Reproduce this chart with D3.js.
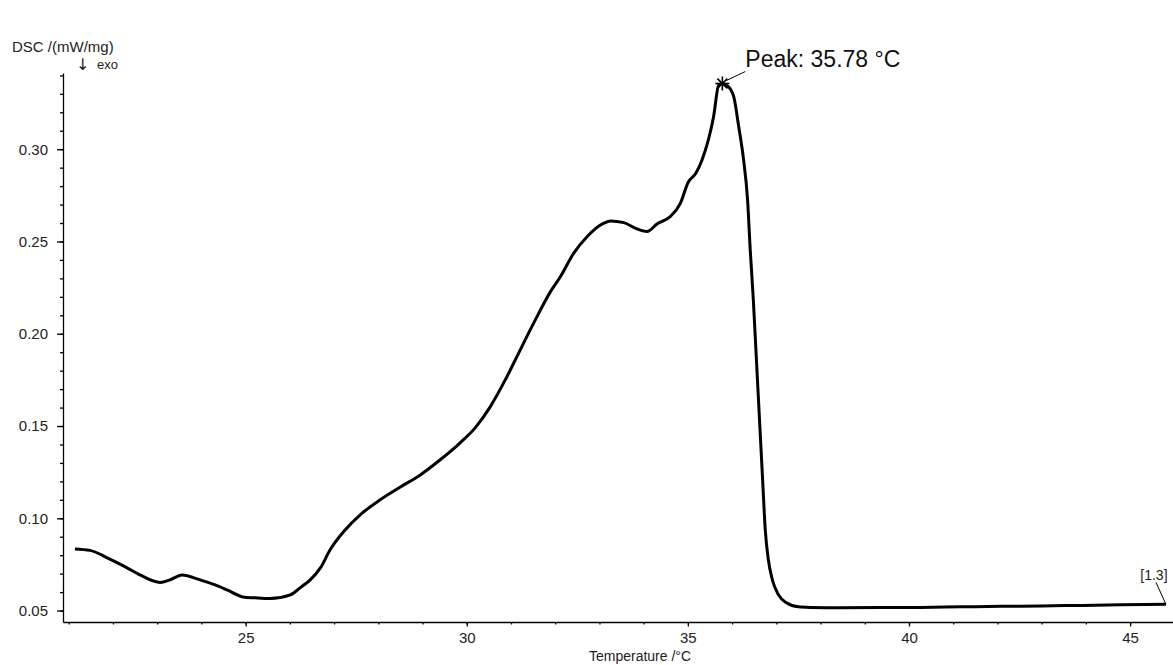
<!DOCTYPE html>
<html>
<head>
<meta charset="utf-8">
<script src="https://cdn.jsdelivr.net/npm/d3@7"></script>
<style>
  html, body { margin: 0; padding: 0; background: #fff; }
  svg { display: block; font-family: "Liberation Sans", Arial, sans-serif; }
</style>
</head>
<body>
<svg id="chart" width="1173" height="665"></svg>
<script>
// ---- data ----
const temperature = [
  21.14, 21.48, 21.87, 22.28, 22.61, 23.07, 23.29, 23.56, 23.97, 24.31, 24.58, 24.94,
  25.21, 25.55, 26.01, 26.23, 26.46, 26.69, 26.91, 27.25, 27.59, 28.04, 28.50, 28.95,
  29.40, 29.85, 30.19, 30.53, 30.87, 31.21, 31.55, 31.89, 32.12, 32.42, 32.72, 33.10,
  33.25, 33.55, 33.85, 34.08, 34.30, 34.60, 34.83, 35.01, 35.18, 35.32, 35.58, 35.70,
  35.78, 35.87, 35.96, 36.04, 36.15, 36.26, 36.35, 36.41, 36.48, 36.55, 36.62, 36.69,
  36.75, 36.82, 36.91, 37.05, 37.23, 37.50, 37.77, 38.45, 39.36, 40.26, 41.17, 42.07,
  42.98, 43.88, 44.79, 45.81
];
const dsc = [
  0.0834, 0.0826, 0.0786, 0.0737, 0.0693, 0.0652, 0.0666, 0.0693, 0.0666, 0.0639, 0.0612, 0.0574,
  0.0569, 0.0565, 0.0585, 0.0623, 0.0666, 0.0731, 0.0829, 0.0937, 0.1019, 0.1100, 0.1170, 0.1235,
  0.1317, 0.1409, 0.1490, 0.1604, 0.1750, 0.1913, 0.2075, 0.2227, 0.2310, 0.2437, 0.2526, 0.2599,
  0.2611, 0.2602, 0.2568, 0.2554, 0.2595, 0.2635, 0.2707, 0.2822, 0.2870, 0.2942, 0.3175, 0.3349,
  0.3356, 0.3345, 0.3327, 0.3282, 0.3122, 0.2942, 0.2725, 0.2455, 0.2184, 0.1859, 0.1534, 0.1209,
  0.0938, 0.0775, 0.0667, 0.0585, 0.0542, 0.0520, 0.0517, 0.0515, 0.0516, 0.0517, 0.0520, 0.0523,
  0.0525, 0.0528, 0.0531, 0.0534
];
const xMajorTicks = [25, 30, 35, 40, 45];
const xMinorTicks = d3.range(21, 46, 1);
const yMajorTicks = [0.05, 0.10, 0.15, 0.20, 0.25, 0.30];
const yMinorTicks = d3.range(5, 35, 1).map(d => d / 100);
const peakTemp = 35.78;
const peakValue = 0.3356;
const peakLabel = "Peak: 35.78 °C";
const curveLabel = "[1.3]";
const yTitle = "DSC /(mW/mg)";
const yArrow = "\u2193\uFE0E";
const yNote = "exo";
const xTitle = "Temperature /°C";

// ---- layout ----
const svg = d3.select("#chart");
const x = d3.scaleLinear().domain([20.87, 45.97]).range([63, 1173]);
const y = d3.scaleLinear().domain([0.0438, 0.3413]).range([622, 73]);
const textColor = "#222";

// y axis
const gy = svg.append("g").attr("transform", `translate(${x.range()[0]},0)`);
gy.call(d3.axisLeft(y).tickValues(yMinorTicks).tickSize(3).tickSizeOuter(0).tickFormat(""));
const gyMaj = svg.append("g").attr("transform", `translate(${x.range()[0]},0)`);
gyMaj.call(d3.axisLeft(y).tickValues(yMajorTicks).tickSize(6).tickSizeOuter(0).tickPadding(9)
  .tickFormat(d3.format(".2f")));
gyMaj.select(".domain").remove();

// x axis
const gx = svg.append("g").attr("transform", `translate(0,${y.range()[0]})`);
gx.call(d3.axisBottom(x).tickValues(xMinorTicks).tickSize(2.5).tickSizeOuter(0).tickFormat(""));
const gxMaj = svg.append("g").attr("transform", `translate(0,${y.range()[0]})`);
gxMaj.call(d3.axisBottom(x).tickValues(xMajorTicks).tickSize(4.5).tickSizeOuter(0).tickPadding(6)
  .tickFormat(d3.format("d")));
gxMaj.select(".domain").remove();

svg.selectAll(".domain, .tick line").attr("stroke", "#000").attr("stroke-width", 1.3);
svg.selectAll(".tick text").attr("fill", textColor).attr("font-size", 15)
  .attr("font-family", "Liberation Sans, Arial, sans-serif");

// axis titles
svg.append("text").attr("x", 12).attr("y", 52).attr("font-size", 15).attr("fill", textColor).text(yTitle);
svg.append("text").attr("x", 76).attr("y", 70).attr("font-size", 16).attr("fill", "#222")
  .style("font-family", "'DejaVu Sans', sans-serif").text(yArrow);
svg.append("text").attr("x", 97).attr("y", 69).attr("font-size", 13).attr("fill", textColor).text(yNote);
svg.append("text").attr("x", 640).attr("y", 661).attr("text-anchor", "middle")
  .attr("font-size", 14).attr("fill", textColor).text(xTitle);

// curve
const pts = temperature.map((t, i) => [t, dsc[i]]);
const line = d3.line().x(d => x(d[0])).y(d => y(d[1])).curve(d3.curveMonotoneX);
svg.append("path").datum(pts).attr("d", line).attr("fill", "none")
  .attr("stroke", "#000").attr("stroke-width", 3).attr("stroke-linejoin", "round");

// peak marker (asterisk)
const px = x(peakTemp), py = y(peakValue);
const star = svg.append("g").attr("transform", `translate(${px},${py})`)
  .attr("stroke", "#000").attr("stroke-width", 1.6);
[0, 45, 90, 135].forEach(a => {
  const r = 7, rad = a * Math.PI / 180;
  star.append("line").attr("x1", -r * Math.cos(rad)).attr("y1", -r * Math.sin(rad))
    .attr("x2", r * Math.cos(rad)).attr("y2", r * Math.sin(rad));
});
svg.append("line").attr("x1", px + 4).attr("y1", py - 3).attr("x2", px + 23).attr("y2", py - 12)
  .attr("stroke", "#000").attr("stroke-width", 1);
svg.append("text").attr("x", px + 23).attr("y", py - 17).attr("font-size", 23)
  .attr("fill", "#111").text(peakLabel);

// curve label
const lastT = temperature[temperature.length - 1], lastV = dsc[dsc.length - 1];
svg.append("line").attr("x1", x(lastT) - 10).attr("y1", y(lastV) - 22)
  .attr("x2", x(lastT)).attr("y2", y(lastV)).attr("stroke", "#000").attr("stroke-width", 1);
svg.append("text").attr("x", x(lastT) - 12).attr("y", y(lastV) - 24).attr("text-anchor", "middle")
  .attr("font-size", 14).attr("fill", textColor).text(curveLabel);
</script>
</body>
</html>
